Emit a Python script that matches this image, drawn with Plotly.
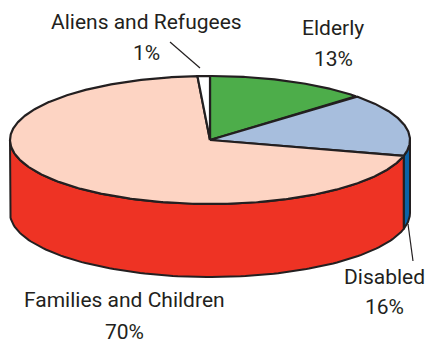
import numpy as np
import plotly.graph_objects as go

# ---- data ----
categories = ["Elderly", "Disabled", "Families and Children", "Aliens and Refugees"]
shares = [13, 16, 70, 1]
pct_labels = ["13%", "16%", "70%", "1%"]
top_colors = ["#4DAD4A", "#A7BEDD", "#FDD4C3", "#FFFFFF"]
side_colors = ["#3A8E3A", "#0B63A8", "#EE3324", "#DDDDDD"]

# ---- geometry (pixel space) ----
W, H = 426, 347
cx, cy, rx, ry, depth = 210, 140, 200, 64, 73
EDGE = "#231F20"


def pt(t, dy=0.0):
    r = np.radians(t)
    return cx + rx * np.sin(r), cy - ry * np.cos(r) + dy


fig = go.Figure()

total = float(sum(shares))
bounds = []
acc = 0.0
for s in shares:
    a = acc / total * 360
    acc += s
    b = acc / total * 360
    bounds.append((a, b))

# side walls (front half only: 90..270 deg clockwise from top)
for (a, b), col in zip(bounds, side_colors):
    lo, hi = max(a, 90), min(b, 270)
    if hi <= lo:
        continue
    ts = np.linspace(lo, hi, 120)
    xt, yt = pt(ts)
    xb, yb = pt(ts[::-1], depth)
    xs = np.concatenate([xt, xb, xt[:1]])
    ys = np.concatenate([yt, yb, yt[:1]])
    fig.add_trace(go.Scatter(x=xs, y=ys, mode="lines", fill="toself",
                             fillcolor=col, line=dict(color=EDGE, width=2),
                             hoverinfo="skip", showlegend=False))

# top slices
for (a, b), col in zip(bounds, top_colors):
    ts = np.linspace(a, b, max(8, int((b - a) * 2)))
    xe, ye = pt(ts)
    xs = np.concatenate([[cx], xe, [cx]])
    ys = np.concatenate([[cy], ye, [cy]])
    fig.add_trace(go.Scatter(x=xs, y=ys, mode="lines", fill="toself",
                             fillcolor=col, line=dict(color=EDGE, width=2.2),
                             hoverinfo="skip", showlegend=False))

# leader lines
leaders = {"Aliens and Refugees": ((170, 42), (200, 68)),
           "Disabled": ((408, 224), (413, 261))}
for name, (p0, p1) in leaders.items():
    fig.add_trace(go.Scatter(x=[p0[0], p1[0]], y=[p0[1], p1[1]], mode="lines",
                             line=dict(color=EDGE, width=1.2),
                             hoverinfo="skip", showlegend=False))

label_pos = {"Elderly": (333, 28, 59),
             "Disabled": (384, 277, 307),
             "Families and Children": (124, 300, 332),
             "Aliens and Refugees": (146, 22, 53)}
font = dict(family="Roboto, sans-serif", size=21, color=EDGE)
for name, pct in zip(categories, pct_labels):
    x, y1, y2 = label_pos[name]
    fig.add_annotation(x=x, y=y1, text=name, showarrow=False, font=font,
                       xanchor="center", yanchor="middle")
    fig.add_annotation(x=x, y=y2, text=pct, showarrow=False, font=font,
                       xanchor="center", yanchor="middle")

fig.update_layout(width=W, height=H, margin=dict(l=0, r=0, t=0, b=0),
                  paper_bgcolor="white", plot_bgcolor="white",
                  xaxis=dict(range=[0, W], visible=False, fixedrange=True),
                  yaxis=dict(range=[H, 0], visible=False, fixedrange=True))
fig.write_html("out.html", config={"displayModeBar": False},
               post_script="document.body.style.margin='0';")
